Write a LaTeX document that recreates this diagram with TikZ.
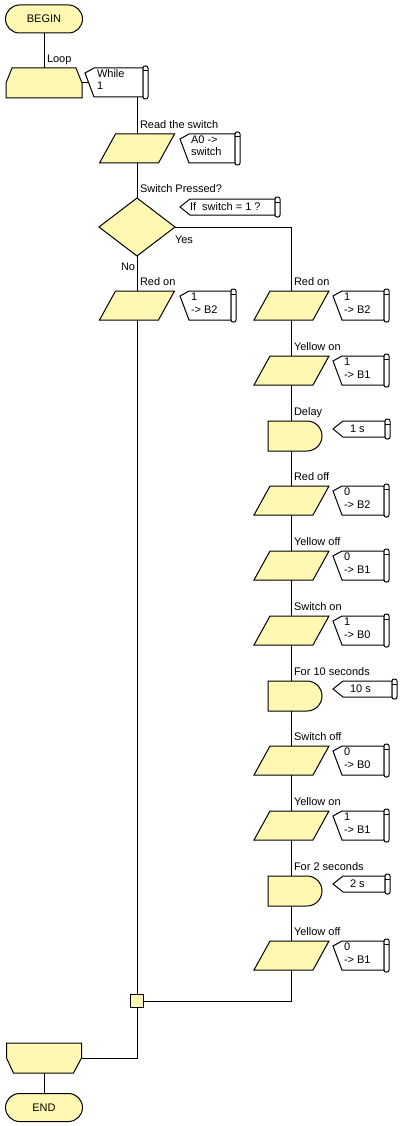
\documentclass[tikz,border=0pt]{standalone}
\usepackage{fontspec}
\setmainfont{Liberation Sans}
\usetikzlibrary{calc}
\definecolor{fcyel}{RGB}{255,248,178}
\tikzset{
 lnk/.style={draw=black,line width=1pt},
 shp/.style={fill=fcyel,draw=black,line width=1pt},
 frm/.style={rectangle,draw=none,inner sep=0pt,outer sep=0pt},
 lbl/.style={anchor=base west,inner sep=0pt,outer sep=0pt},
 cmt/.style={fill=white,draw=black,line width=1pt},
 term/.style={rectangle,rounded corners=14pt,fill=fcyel,draw=black,line width=1pt,minimum width=77pt,minimum height=28pt,inner sep=0pt},
}
\newcommand\ioshape[3]{%
  \node[frm,minimum width=75pt,minimum height=29pt,anchor=north] (#1) at (#2,#3) {};
  \draw[shp] ([xshift=16pt]#1.north west) -- (#1.north east) -- ([xshift=-16pt]#1.south east) -- (#1.south west) -- cycle;
}
\newcommand\delayshape[3]{%
  \node[frm,minimum width=61pt,minimum height=30pt,anchor=north] (#1) at (#2,#3) {};
  \draw[shp] ([xshift=7pt]#1.north west) -- ([xshift=-15pt]#1.north east) arc[start angle=90,end angle=-90,radius=15pt] -- ([xshift=7pt]#1.south west) -- cycle;
}
\newcommand\cmscroll[1]{%
  \draw[cmt,rounded corners=2pt] ([yshift=2pt]#1.north east) rectangle ([xshift=5pt,yshift=-2pt]#1.south east);
  \draw[line width=1pt] ([yshift=-3pt]#1.north east) -- ([xshift=5pt,yshift=-3pt]#1.north east);
}
\newcommand\cmtwo[4]{%
  \node[frm,minimum width={#4-#2-9},minimum height=29pt,anchor=north west] (#1) at (#2+9,#3) {};
  \draw[cmt] ([xshift=-9pt,yshift=-5pt]#1.north west) -- (#1.north west) -- (#1.north east) -- (#1.south east) -- (#1.south west) -- cycle;
  \cmscroll{#1}
}
\newcommand\cmone[4]{%
  \node[frm,minimum width={#4-#2-10},minimum height=16pt,anchor=north west] (#1) at (#2+10,#3) {};
  \draw[cmt] ([xshift=-10pt]#1.west) -- (#1.north west) -- (#1.north east) -- (#1.south east) -- (#1.south west) -- cycle;
  \cmscroll{#1}
}
\begin{document}
\begin{tikzpicture}[x=1pt,y=-1pt,font=\fontsize{11}{13}\selectfont]
\useasboundingbox (0,0) rectangle (400,1126);
% begin and loop start
\node[term] (begin) at (44,19) {BEGIN};
\node[frm,minimum width=76pt,minimum height=30pt,anchor=north] (loopA) at (44,68) {};
\draw[shp] ([xshift=6pt]loopA.north west) -- ([xshift=-6pt]loopA.north east) -- (loopA.east) -- (loopA.south east) -- (loopA.south west) -- (loopA.west) -- cycle;
\draw[lnk] (begin.south) -- (loopA.north);
\node[lbl] (tloop) at (47,63) {Loop};
\cmtwo{cwhile}{85}{68}{143}
\node[lbl] (twh1) at (97,77.5) {While};
\node[lbl] (twh2) at (97,90) {1};
\coordinate (wconn) at (88.7,83);
\draw[lnk] (loopA.east) -- (wconn);
% read switch
\ioshape{read}{137}{134}
\draw[lnk] (read.north |- cwhile.south) -- (read.north);
\node[lbl] (tread) at (140,129) {Read the switch};
\cmtwo{cread}{180}{134}{235}
\node[lbl] (trd1) at (191,143.5) {A0 ->};
\node[lbl] (trd2) at (191,156) {switch};
% decision
\node[frm,minimum width=76pt,minimum height=58pt] (dec) at (137,227) {};
\draw[shp] (dec.north) -- (dec.east) -- (dec.south) -- (dec.west) -- cycle;
\draw[lnk] (read.south) -- (dec.north);
\node[lbl] (tdec) at (140,193) {Switch Pressed?};
\cmone{cdec}{180}{199}{275}
\node[lbl] (tif) at (190,210.5) {If\ \ switch = 1 ?};
\node[lbl] (tyes) at (175,243) {Yes};
\node[lbl] (tno) at (121,270) {No};
% left branch
\ioshape{l1}{137}{291}
\draw[lnk] (dec.south) -- (l1.north);
\node[lbl] (tl1) at (140,285) {Red on};
\cmtwo{cl1}{180}{291}{231}
\node[lbl] (tl1a) at (191,300.5) {1};
\node[lbl] (tl1b) at (191,313) {-> B2};
% right branch
\ioshape{r0}{291.5}{291}
\draw[lnk] (dec.east) -| (r0.north);
\node[lbl] (tr0) at (294,285) {Red on};
\cmtwo{cr0}{333}{291}{384}
\node[lbl] (tr0a) at (344,300.5) {1};
\node[lbl] (tr0b) at (344,313) {-> B2};

\ioshape{r1}{291.5}{356}
\draw[lnk] (r0.south) -- (r1.north);
\node[lbl] (tr1) at (294,350) {Yellow on};
\cmtwo{cr1}{333}{356}{384}
\node[lbl] (tr1a) at (344,365.5) {1};
\node[lbl] (tr1b) at (344,378) {-> B1};

\delayshape{r2}{291.5}{421}
\draw[lnk] (r1.south) -- (r2.north);
\node[lbl] (tr2) at (294,415) {Delay};
\cmone{cr2}{333}{421}{385}
\node[lbl] (tr2a) at (350,432.5) {1 s};

\ioshape{r3}{291.5}{486}
\draw[lnk] (r2.south) -- (r3.north);
\node[lbl] (tr3) at (294,480) {Red off};
\cmtwo{cr3}{333}{486}{384}
\node[lbl] (tr3a) at (344,495.5) {0};
\node[lbl] (tr3b) at (344,508) {-> B2};

\ioshape{r4}{291.5}{551}
\draw[lnk] (r3.south) -- (r4.north);
\node[lbl] (tr4) at (294,545) {Yellow off};
\cmtwo{cr4}{333}{551}{384}
\node[lbl] (tr4a) at (344,560.5) {0};
\node[lbl] (tr4b) at (344,573) {-> B1};

\ioshape{r5}{291.5}{616}
\draw[lnk] (r4.south) -- (r5.north);
\node[lbl] (tr5) at (294,610) {Switch on};
\cmtwo{cr5}{333}{616}{384}
\node[lbl] (tr5a) at (344,625.5) {1};
\node[lbl] (tr5b) at (344,638) {-> B0};

\delayshape{r6}{291.5}{681}
\draw[lnk] (r5.south) -- (r6.north);
\node[lbl] (tr6) at (294,675) {For 10 seconds};
\cmone{cr6}{333}{681}{392}
\node[lbl] (tr6a) at (350,692.5) {10 s};

\ioshape{r7}{291.5}{746}
\draw[lnk] (r6.south) -- (r7.north);
\node[lbl] (tr7) at (294,740) {Switch off};
\cmtwo{cr7}{333}{746}{384}
\node[lbl] (tr7a) at (344,755.5) {0};
\node[lbl] (tr7b) at (344,768) {-> B0};

\ioshape{r8}{291.5}{811}
\draw[lnk] (r7.south) -- (r8.north);
\node[lbl] (tr8) at (294,805) {Yellow on};
\cmtwo{cr8}{333}{811}{384}
\node[lbl] (tr8a) at (344,820.5) {1};
\node[lbl] (tr8b) at (344,833) {-> B1};

\delayshape{r9}{291.5}{876}
\draw[lnk] (r8.south) -- (r9.north);
\node[lbl] (tr9) at (294,870) {For 2 seconds};
\cmone{cr9}{333}{876}{385}
\node[lbl] (tr9a) at (350,887.5) {2 s};

\ioshape{r10}{291.5}{941}
\draw[lnk] (r9.south) -- (r10.north);
\node[lbl] (tr10) at (294,935) {Yellow off};
\cmtwo{cr10}{333}{941}{384}
\node[lbl] (tr10a) at (344,950.5) {0};
\node[lbl] (tr10b) at (344,963) {-> B1};
% junction and loop end
\node[rectangle,fill=fcyel,draw=black,line width=1pt,minimum size=13pt,inner sep=0pt] (jn) at (137,1001) {};
\draw[lnk] (l1.south) -- (jn.north);
\draw[lnk] (r10.south) |- (jn.east);
\node[frm,minimum width=75pt,minimum height=30pt,anchor=north] (loopB) at (44,1043) {};
\draw[shp] (loopB.north west) -- (loopB.north east) -- (loopB.east) -- ([xshift=-8pt]loopB.south east) -- ([xshift=7pt]loopB.south west) -- (loopB.west) -- cycle;
\draw[lnk] (jn.south) |- (loopB.east);
\node[term] (end) at (44,1107.5) {END};
\draw[lnk] (loopB.south) -- (end.north);
\end{tikzpicture}
\end{document}
